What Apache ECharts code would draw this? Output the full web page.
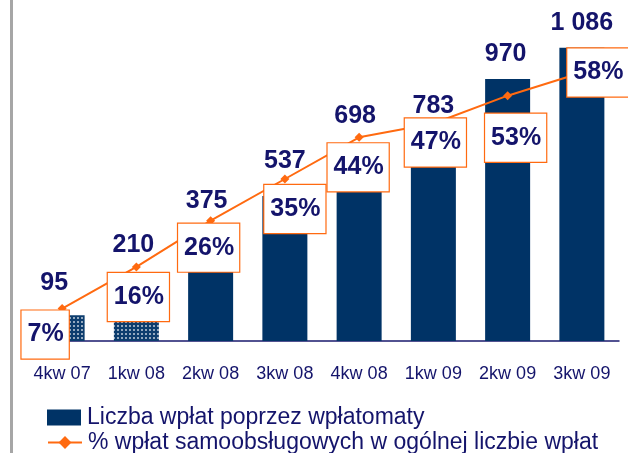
<!DOCTYPE html>
<html>
<head>
<meta charset="utf-8">
<script src="https://cdn.jsdelivr.net/npm/echarts@6/dist/echarts.min.js"></script>
<style>
  html, body { margin: 0; padding: 0; background: #fff; }
  #main { width: 628px; height: 453px; }
</style>
</head>
<body>
<div id="main"></div>
<script>
// dane z wykresu
var quarters = ['4kw 07', '1kw 08', '2kw 08', '3kw 08', '4kw 08', '1kw 09', '2kw 09', '3kw 09'];
var deposits = [95, 210, 375, 537, 698, 783, 970, 1086];
var selfShare = [7, 16, 26, 35, 44, 47, 53, 58];
var seriesNames = ['Liczba wpłat poprzez wpłatomaty', '% wpłat samoobsługowych w ogólnej liczbie wpłat'];

// ręczne przesunięcia etykiet (jak w oryginale)
var barLabelShift = [[-8, -20], [-3, -27], [-4, -26], [0, -22], [-4, -24], [0, -11], [-2, -12], [0, -12]];
var boxShift = [[-17, 26], [2, 30], [-2, 27], [10, 30], [-1, 30], [2, 19], [8, 42], [16, 0]];

var navy = '#003366';
var textNavy = '#14146b';
var orange = '#ff6a10';

// kropkowany wzór dla dwóch pierwszych słupków
var dots = document.createElement('canvas');
dots.width = 4; dots.height = 4;
var ctx = dots.getContext('2d');
ctx.fillStyle = '#0d3d6e';
ctx.fillRect(0, 0, 4, 4);
ctx.fillStyle = 'rgba(255,255,255,0.75)';
ctx.beginPath();
ctx.arc(2, 2, 1, 0, Math.PI * 2);
ctx.fill();

var barData = deposits.map(function (v, i) {
    var item = {
        value: v,
        label: { offset: barLabelShift[i] }
    };
    if (i < 2) item.itemStyle = { color: { image: dots, repeat: 'repeat' } };
    return item;
});

var lineData = selfShare.map(function (v, i) {
    return { value: v, label: { offset: boxShift[i] } };
});

var legendBase = {
    orient: 'horizontal',
    left: 42,
    itemWidth: 34,
    itemHeight: 16,
    itemGap: 0,
    textStyle: { color: textNavy, fontSize: 23, padding: [0, 0, 0, 1] }
};

var myChart = echarts.init(document.getElementById('main'));
var option = {
    animation: false,
    textStyle: { fontFamily: 'Liberation Sans, Arial, sans-serif' },
    graphic: [{
        type: 'rect',
        left: 10, top: 0,
        shape: { width: 3, height: 453 },
        style: { fill: '#a6a6a6' }
    }],
    grid: { left: 25, right: 9, top: 17, bottom: 112 },
    legend: [
        Object.assign({}, legendBase, { top: 401, data: [{ name: seriesNames[0], icon: 'rect' }] }),
        Object.assign({}, legendBase, { top: 426, data: [{ name: seriesNames[1] }] })
    ],
    xAxis: [{
        type: 'category',
        data: quarters,
        axisLine: { lineStyle: { color: '#1a1a6e', width: 1.5 } },
        axisTick: { length: 6, lineStyle: { color: '#1a1a6e', width: 1.5 } },
        axisLabel: { color: textNavy, fontSize: 18, margin: 24 }
    }, {
        type: 'category',
        data: quarters,
        position: 'bottom',
        axisLine: { show: false },
        axisTick: { inside: true, length: 6, lineStyle: { color: '#1a1a6e', width: 1.5 } },
        axisLabel: { show: false }
    }],
    yAxis: [{
        type: 'value',
        min: 0, max: 1200,
        show: false,
        splitLine: { show: false }
    }, {
        type: 'value',
        min: 0, max: 70,
        show: false,
        splitLine: { show: false }
    }],
    series: [{
        name: seriesNames[0],
        type: 'bar',
        barWidth: 45,
        itemStyle: { color: navy },
        label: {
            show: true,
            position: 'top',
            distance: 0,
            color: textNavy,
            fontSize: 25,
            fontWeight: 'bold',
            formatter: function (p) {
                return String(p.value).replace(/\B(?=(\d{3})+(?!\d))/g, ' ');
            }
        },
        data: barData
    }, {
        name: seriesNames[1],
        type: 'line',
        yAxisIndex: 1,
        symbol: 'diamond',
        symbolSize: 9,
        lineStyle: { color: orange, width: 2 },
        itemStyle: { color: orange },
        z: 3,
        label: {
            show: true,
            position: 'inside',
            formatter: '{c}%',
            color: textNavy,
            fontSize: 25,
            fontWeight: 'bold',
            lineHeight: 25,
            backgroundColor: '#fff',
            borderColor: orange,
            borderWidth: 1.2,
            padding: [12, 5, 11, 6]
        },
        data: lineData
    }]
};
myChart.setOption(option);
</script>
</body>
</html>
